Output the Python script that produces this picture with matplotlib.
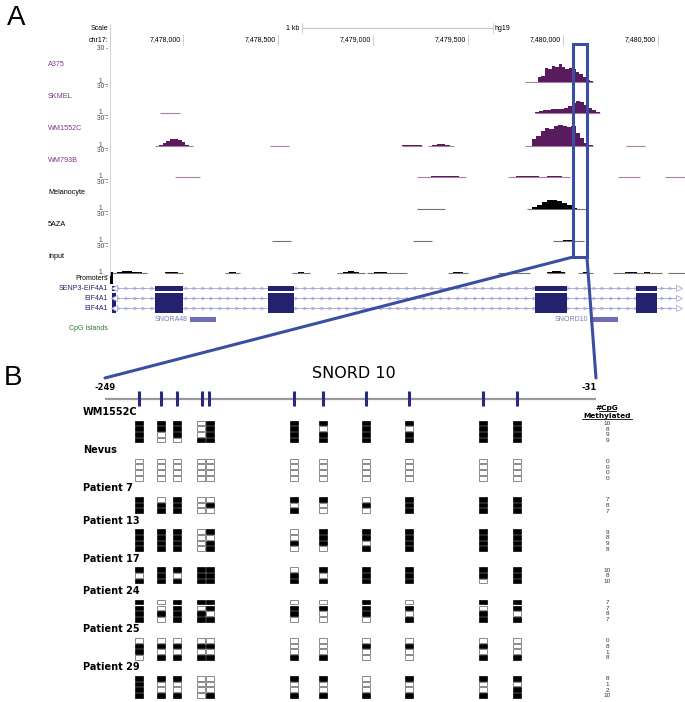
import numpy as np
import matplotlib
matplotlib.use("Agg")
import matplotlib.pyplot as plt
from matplotlib.patches import Rectangle, ConnectionPatch

plt.rcParams['font.family'] = ['Liberation Sans', 'DejaVu Sans']

W, H = 685, 702


def fx(px):
    return px / W


def fy(py):
    return 1 - py / H


# ---------------- panel A: genome browser, hg19 chr17 ----------------
view_start, view_end = 7477616, 7480642
pos_ticks = [7478000, 7478500, 7479000, 7479500, 7480000, 7480500]
scale_bar_bp = 1000

track_names = ["A375", "SKMEL", "WM1552C", "WM793B", "Melanocyte", "5AZA", "Input"]

# coverage blocks: (start, end, heights in equal bins), track scale 1-30
cov_a375 = [(7479800, 7479868, [1]),
            (7479868, 7480158, [5, 6, 13, 12, 15, 14, 17, 14, 12, 13, 12, 10, 8, 5, 3, 2])]
cov_skmel = [(7477879, 7477984, [1]),
             (7479853, 7480195, [2, 3, 4, 4, 5, 5, 6, 7, 9, 12, 14, 13, 10, 7, 4, 2])]
cov_wm1552c = [(7477853, 7478053, [1, 2, 4, 6, 8, 9, 7, 5, 2, 1]),
               (7478458, 7478558, [1]),
               (7479153, 7479258, [2, 2, 2, 2]),
               (7479289, 7479426, [1, 2, 3, 3, 2, 1]),
               (7479800, 7479837, [1]),
               (7479837, 7480158, [9, 12, 17, 20, 19, 22, 24, 23, 21, 22, 15, 10, 4, 2]),
               (7480332, 7480432, [1])]
cov_wm793b = [(7477958, 7478089, [1]),
              (7479232, 7479490, [1, 1, 2, 2, 2, 2, 1]),
              (7479711, 7480037, [1, 2, 2, 2, 1, 2, 2, 1]),
              (7480289, 7480405, [1]),
              (7480537, 7480642, [1])]
cov_melanocyte = [(7479232, 7479379, [1]),
                  (7479811, 7480126, [1, 3, 6, 9, 11, 11, 10, 8, 5, 2, 1, 1])]
cov_5aza = [(7478468, 7478568, [1]),
            (7479210, 7479311, [1]),
            (7479947, 7480111, [1, 1, 2, 2, 1, 1])]
cov_input = [(7477626, 7477811, [1, 2, 3, 3, 2, 2, 1]),
             (7477905, 7478000, [2, 2, 2, 1]),
             (7478221, 7478300, [1, 2, 2, 1]),
             (7478574, 7478668, [1, 2, 1]),
             (7478810, 7478958, [1, 2, 3, 2, 1]),
             (7478968, 7479179, [1, 2, 2, 1, 1, 1]),
             (7479395, 7479500, [1, 2, 2, 1]),
             (7479658, 7479826, [1, 1, 2, 1, 1]),
             (7479916, 7480011, [2, 3, 3, 2]),
             (7480079, 7480158, [1, 2, 1]),
             (7480263, 7480521, [1, 1, 2, 2, 1, 2, 1, 1]),
             (7480553, 7480642, [1])]
tracks = [cov_a375, cov_skmel, cov_wm1552c, cov_wm793b, cov_melanocyte, cov_5aza, cov_input]

gene_names = ["SENP3-EIF4A1", "EIF4A1", "EIF4A1"]
gene_span = (7477626, 7480600)
exon_starts = [7477626, 7477853, 7478447, 7479853, 7480384]
exon_ends = [7477645, 7478000, 7478584, 7480021, 7480495]
snorna_names = ["SNORA48", "SNORD10"]
snorna_starts = [7478037, 7480142]
snorna_ends = [7478174, 7480289]
promoter = (7477616, 7477632)
zoom_region = (7480053, 7480126)

# ---------------- panel B: SNORD10 bisulfite sequencing ----------------
amplicon = (-249, -31)
cpg_pos = [-234, -224, -217, -206, -203, -165, -152, -133, -114, -81, -66]
samples = ["WM1552C", "Nevus", "Patient 7", "Patient 13", "Patient 17",
           "Patient 24", "Patient 25", "Patient 29"]
clones_wm1552c = ["11101111111", "11101101011", "10101111111", "10011111111"]
clones_nevus = ["00000000000", "00000000000", "00000000000", "00000000000"]
clones_p7 = ["10100110111", "11101001111", "11100100111"]
clones_p13 = ["11101011111", "11100011111", "11101110111", "11101001111"]
clones_p17 = ["11111011111", "01011101111", "11111111101"]
clones_p24 = ["10111001011", "10101111101", "11110101010", "10111000111"]
clones_p25 = ["00000000000", "11111001110", "10000000000", "01111110011"]
clones_p29 = ["11100110111", "10000000000", "10000000001", "11101111111"]
clones = [clones_wm1552c, clones_nevus, clones_p7, clones_p13, clones_p17,
          clones_p24, clones_p25, clones_p29]
n_methylated = [[10, 8, 9, 9], [0, 0, 0, 0], [7, 8, 7], [9, 8, 9, 8], [10, 8, 10],
                [7, 7, 8, 7], [0, 8, 1, 8], [8, 1, 2, 10]]

# ======================= drawing =======================
fig = plt.figure(figsize=(W / 100, H / 100), dpi=100)
ppb = (W - 110) / (view_end - view_start)

purple = "#5a1a5e"
navy = "#22226e"
blue = "#3a4fa3"
track_tops = [49, 87, 119, 151, 183, 215, 247]
track_bases = [82, 113, 146, 177, 209, 241, 273]
fill_cols = [purple] * 4 + ["black"] * 3
text_cols = ["#7d3a85"] * 4 + ["black"] * 3

fig.text(fx(7), fy(25), "A", fontsize=20, va="baseline")
fig.text(fx(4), fy(385), "B", fontsize=20, va="baseline")

for name, blocks, top, base, fc, tc in zip(track_names, tracks, track_tops,
                                           track_bases, fill_cols, text_cols):
    ax = fig.add_axes([fx(110), fy(base), 1 - fx(110), (base - top) / H])
    ax.set_xlim(view_start, view_end)
    ax.set_ylim(1, 30)
    ax.axis("off")
    for s, e, h in blocks:
        edges = np.linspace(s, e, len(h) + 1)
        vals = np.append(h, h[-1])
        ax.fill_between(edges, 1, vals, step="post", color=fc, lw=0)
        ax.plot([s, e], [1, 1], color=fc, lw=0.8, alpha=0.55, clip_on=False,
                solid_capstyle="butt")
    fig.text(fx(48), fy(base - 17), name, color=tc, fontsize=5.2, va="center")
    fig.text(fx(108), fy(top), "30 -", fontsize=4.8, ha="right", va="center", color="#444")
    fig.text(fx(108), fy(base), "1 _", fontsize=4.8, ha="right", va="baseline", color="#444")

# gene / annotation tracks
axg = fig.add_axes([fx(110), fy(335), 1 - fx(110), (335 - 268) / H])
axg.set_xlim(view_start, view_end)
axg.set_ylim(335, 268)
axg.axis("off")
axg.add_patch(Rectangle((promoter[0], 272), promoter[1] - promoter[0], 12, color="black", lw=0))
row_y = [288, 298, 308]
row_h = [5, 10, 10]
chev = np.arange(gene_span[0] + 30, gene_span[1] - 20, 8.5 / ppb)
for y, hgt in zip(row_y, row_h):
    axg.plot(gene_span, [y, y], color="#a4a4d8", lw=0.6, zorder=1)
    axg.plot(chev, np.full(len(chev), y), ls="none", marker=">", ms=2.2, mfc="none",
             mec="#9c9cd4", mew=0.4, zorder=1)
    axg.plot([gene_span[1] + 8], [y], marker=">", ms=4.5, mfc="white", mec="#a8a8d8",
             mew=0.6, zorder=3, clip_on=False)
    axg.plot([gene_span[0] + 10], [y], marker="<", ms=4, mfc="white", mec="#a8a8d8",
             mew=0.6, zorder=3)
    for s, e in zip(exon_starts, exon_ends):
        axg.add_patch(Rectangle((s, y - hgt / 2), e - s, hgt, color=navy, lw=0, zorder=2))
for nm, s, e in zip(snorna_names, snorna_starts, snorna_ends):
    axg.add_patch(Rectangle((s, 317), e - s, 5, color="#6e6eb8", lw=0))
    axg.text(s - 2 / ppb, 319.5, nm, color="#7a7ab8", fontsize=5, ha="right", va="center")

fig.text(fx(108), fy(278), "Promoters", fontsize=5, ha="right", va="center")
for nm, y in zip(gene_names, row_y):
    fig.text(fx(108), fy(y), nm, fontsize=5, ha="right", va="center", color=navy)
fig.text(fx(108), fy(329), "CpG Islands", fontsize=5, ha="right", va="center", color="#2a7a2a")

# overlay: ruler, zoom box, connectors
ov = fig.add_axes([0, 0, 1, 1], zorder=10)
ov.set_xlim(view_start - 110 / ppb, view_end)
ov.set_ylim(H, 0)
ov.axis("off")
ov.patch.set_alpha(0)
ov.plot([view_start, view_start], [24, 275], color="#c8c8c8", lw=0.6)
ov.text(view_start - 2 / ppb, 28, "Scale", fontsize=5, ha="right", va="center")
ov.text(view_start - 2 / ppb, 40, "chr17:", fontsize=5, ha="right", va="center")
mid = (view_start + view_end) / 2
sb0, sb1 = mid - scale_bar_bp / 2, mid + scale_bar_bp / 2
ov.plot([sb0, sb1], [28, 28], color="#c8c8c8", lw=0.8)
ov.plot([sb0, sb0], [23, 33], color="#c8c8c8", lw=0.6)
ov.plot([sb1, sb1], [23, 33], color="#c8c8c8", lw=0.6)
ov.text(sb0 - 3 / ppb, 28, "1 kb", fontsize=5, ha="right", va="center")
ov.text(sb1 + 2 / ppb, 28, "hg19", fontsize=5, ha="left", va="center")
for t in pos_ticks:
    ov.plot([t, t], [35, 45], color="#c8c8c8", lw=0.6)
    ov.text(t - 2 / ppb, 40, f"{t:,}", fontsize=5, ha="right", va="center")
ov.add_patch(Rectangle((zoom_region[0], 44), zoom_region[1] - zoom_region[0], 213,
                       fill=False, ec=blue, lw=2.2))

# panel B
k = (596 - 105) / (amplicon[1] - amplicon[0])
axB = fig.add_axes([0, 0, 1, (H - 355) / H])
axB.set_xlim(amplicon[0] - 105 / k, amplicon[0] + (W - 105) / k)
axB.set_ylim(H, 355)
axB.axis("off")

for xa, xb in [(zoom_region[0], amplicon[0]), (zoom_region[1], amplicon[1])]:
    con = ConnectionPatch(xyA=(xa, 257), coordsA=ov.transData, xyB=(xb, 378),
                          coordsB=axB.transData, color=blue, lw=2.2, zorder=20)
    fig.add_artist(con)

bold = dict(family="DejaVu Sans", fontweight="bold")
axB.text(np.mean(amplicon) + 1.5, 374, "SNORD 10", fontsize=11.5, ha="center",
         va="center", family="DejaVu Sans")
axB.text(amplicon[0], 388, str(amplicon[0]), fontsize=6, ha="center", va="center", **bold)
axB.text(amplicon[1] - 3, 388, str(amplicon[1]), fontsize=6, ha="center", va="center", **bold)
axB.plot(amplicon, [399, 399], color="#9a9a9a", lw=1.6, solid_capstyle="butt")
axB.vlines(cpg_pos, 391, 406, color="#242a80", lw=2.2)

count_x = amplicon[1] + 5
for txt, yy in [("#CpG", 408), ("Methylated", 416)]:
    axB.text(count_x, yy, txt, fontsize=5.3, ha="center", va="center", **bold)
half = {"#CpG": 8.5, "Methylated": 25}
axB.plot([count_x - half["#CpG"] / k, count_x + half["#CpG"] / k], [411.5, 411.5],
         color="black", lw=0.6)
axB.plot([count_x - half["Methylated"] / k, count_x + half["Methylated"] / k], [419.5, 419.5],
         color="black", lw=0.6)

bw = 8 / k
bh = 4.6
step = 5.7
centers = np.array(cpg_pos, dtype=float)
for i in range(len(centers) - 1):
    if centers[i + 1] - centers[i] < bw + 1 / k:
        m = (centers[i] + centers[i + 1]) / 2
        centers[i] = m - (bw + 1 / k) / 2
        centers[i + 1] = m + (bw + 1 / k) / 2

label_x = amplicon[0] - 22 / k
y = 412
for name, cl, counts in zip(samples, clones, n_methylated):
    axB.text(label_x, y, name, fontsize=7, ha="left", va="center", **bold)
    for j, (pattern, n) in enumerate(zip(cl, counts)):
        yy = y + 11 + j * step
        for cx, ch in zip(centers, pattern):
            if ch == "1":
                axB.add_patch(Rectangle((cx - bw / 2, yy - bh / 2), bw, bh,
                                        fc="black", ec="black", lw=0.5))
            else:
                axB.add_patch(Rectangle((cx - bw / 2, yy - bh / 2), bw, bh,
                                        fc="white", ec="#8a8a8a", lw=0.7))
        axB.text(count_x, yy + 0.5, str(n), fontsize=4.6, ha="center", va="center", color="#333")
    y = y + 11 + (len(cl) - 1) * step + 10

fig.savefig("out.png", dpi=100)
